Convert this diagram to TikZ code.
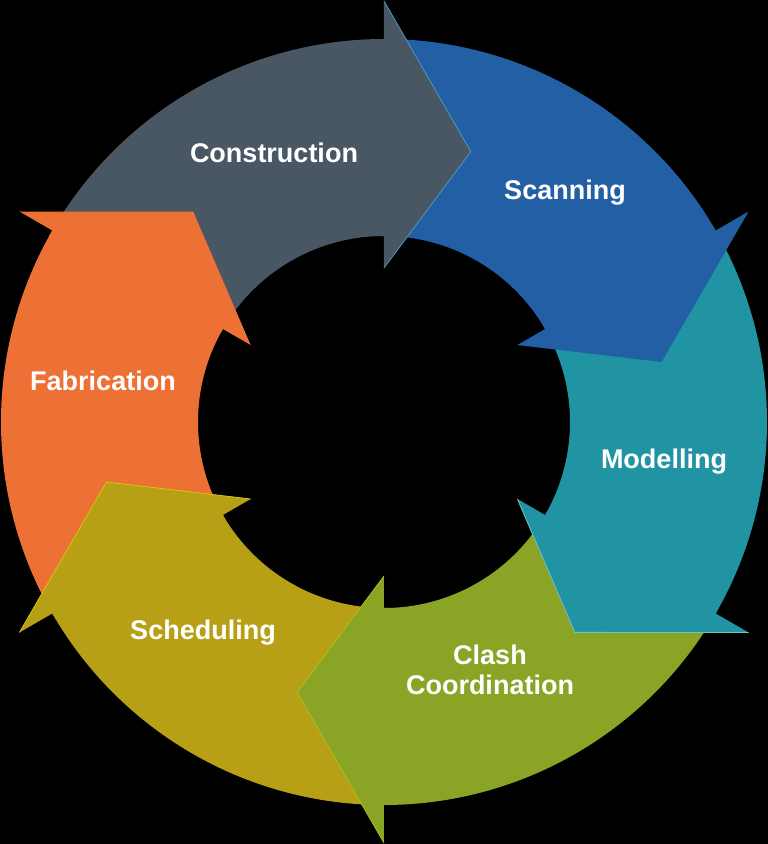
\documentclass[tikz,border=0pt]{standalone}
\usepackage{fontspec}
\setmainfont{Liberation Sans}
\usepackage{tikz}
\usetikzlibrary{calc}

\definecolor{cgray}{RGB}{72,87,99}
\definecolor{cblue}{RGB}{35,95,165}
\definecolor{cteal}{RGB}{33,148,164}
\definecolor{cgreen}{RGB}{138,164,38}
\definecolor{colive}{RGB}{184,160,22}
\definecolor{corange}{RGB}{237,112,52}

\begin{document}
\begin{tikzpicture}
  % styles
  \tikzstyle{lbl}=[text=white, font=\fontsize{27}{30}\selectfont\bfseries, align=center, inner sep=0pt];
  \tikzstyle{edge}=[line width=0.8pt, line join=miter];
  \def\Rout{383pt}
  \def\Rin{186pt}

  % background / bounding box
  \useasboundingbox (-384pt,-422pt) rectangle (384pt,422pt);
  \fill[black] (-384pt,-422pt) rectangle (384pt,422pt);

  %==================== RING BODIES ====================
  \fill[cgray]   (150:\Rout) arc[start angle=150, end angle=90, radius=\Rout] -- (90:\Rin) arc[start angle=90, end angle=150, radius=\Rin] -- cycle;
  \fill[cblue]   (90:\Rout) arc[start angle=90, end angle=30, radius=\Rout] -- (30:\Rin) arc[start angle=30, end angle=90, radius=\Rin] -- cycle;
  \fill[cteal]   (30:\Rout) arc[start angle=30, end angle=-30, radius=\Rout] -- (-30:\Rin) arc[start angle=-30, end angle=30, radius=\Rin] -- cycle;
  \fill[cgreen]  (-30:\Rout) arc[start angle=-30, end angle=-90, radius=\Rout] -- (-90:\Rin) arc[start angle=-90, end angle=-30, radius=\Rin] -- cycle;
  \fill[colive]  (-90:\Rout) arc[start angle=-90, end angle=-150, radius=\Rout] -- (-150:\Rin) arc[start angle=-150, end angle=-90, radius=\Rin] -- cycle;
  \fill[corange] (-150:\Rout) arc[start angle=-150, end angle=-210, radius=\Rout] -- (-210:\Rin) arc[start angle=-210, end angle=-150, radius=\Rin] -- cycle;

  %==================== ARROW HEADS ====================
  % each head reaches 1 degree back into its own body to hide the seam
  \fill[cgray]   (90:421pt) -- (72.2:284pt) -- (90:154pt) -- (90:\Rin) -- (91:\Rin) -- (91:\Rout) -- (90:\Rout) -- cycle;
  \fill[cblue]   (30:421pt) -- (12.2:284pt) -- (30:154pt) -- (30:\Rin) -- (31:\Rin) -- (31:\Rout) -- (30:\Rout) -- cycle;
  \fill[cteal]   (-30:421pt) -- (-47.8:284pt) -- (-30:154pt) -- (-30:\Rin) -- (-29:\Rin) -- (-29:\Rout) -- (-30:\Rout) -- cycle;
  \fill[cgreen]  (-90:421pt) -- (-107.8:284pt) -- (-90:154pt) -- (-90:\Rin) -- (-89:\Rin) -- (-89:\Rout) -- (-90:\Rout) -- cycle;
  \fill[colive]  (-150:421pt) -- (-167.8:284pt) -- (-150:154pt) -- (-150:\Rin) -- (-149:\Rin) -- (-149:\Rout) -- (-150:\Rout) -- cycle;
  \fill[corange] (150:421pt) -- (132.2:284pt) -- (150:154pt) -- (150:\Rin) -- (151:\Rin) -- (151:\Rout) -- (150:\Rout) -- cycle;

  % light rims on the heads
  \draw[edge, cyan!55!cgray]     (90:421pt) -- (72.2:284pt) -- (90:154pt);
  \draw[edge, cteal!60!white]    (-30:421pt) -- (-47.8:284pt) -- (-30:154pt);
  \draw[edge, cgreen!70!yellow]  (-90:421pt) -- (-107.8:284pt) -- (-90:154pt);
  \draw[edge, colive!60!yellow]  (-150:421pt) -- (-167.8:284pt) -- (-150:154pt);

  % labels
  \node[lbl] (construction) at (-110pt,269pt) {Construction};
  \node[lbl] (scanning) at (181pt,229pt) {Scanning};
  \node[lbl] (modelling) at (280pt,-40pt) {Modelling};
  \node[lbl] (clash) at (106pt,-248pt) {Clash\\Coordination};
  \node[lbl] (scheduling) at (-181pt,-211pt) {Scheduling};
  \node[lbl] (fabrication) at (-281pt,41pt) {Fabrication};
\end{tikzpicture}
\end{document}
